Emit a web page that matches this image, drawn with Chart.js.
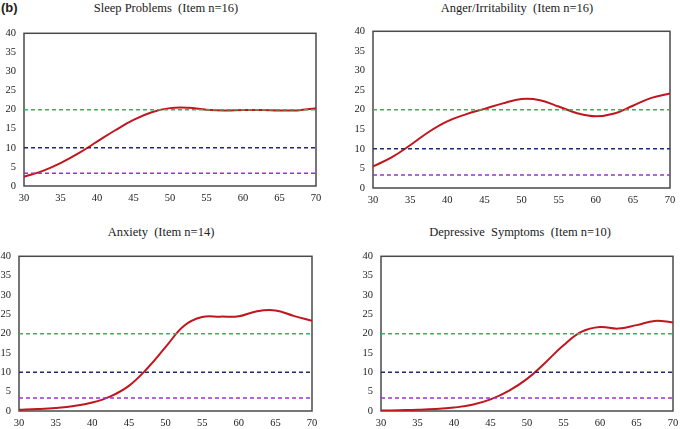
<!DOCTYPE html>
<html>
<head>
<meta charset="utf-8">
<script src="https://cdn.jsdelivr.net/npm/chart.js@4/dist/chart.umd.min.js"></script>
<style>
body{margin:0;background:#fff;width:680px;height:429px;position:relative;overflow:hidden;}
.box{position:absolute;}
.ttl{position:absolute;width:300px;text-align:center;font-family:"Liberation Serif",serif;font-size:12.5px;line-height:16px;color:#222;white-space:pre;}
#lbl{position:absolute;left:1px;top:0px;font:bold 13px "Liberation Sans",Arial,sans-serif;line-height:16px;color:#222;}
</style>
</head>
<body>
<div id="lbl">(b)</div>
<div class="ttl" style="left:16px;top:0px">Sleep Problems  (Item n=16)</div>
<div class="ttl" style="left:367px;top:0px">Anger/Irritability  (Item n=16)</div>
<div class="ttl" style="left:11px;top:224px">Anxiety  (Item n=14)</div>
<div class="ttl" style="left:370px;top:224px">Depressive  Symptoms  (Item n=10)</div>

<div class="box" id="b1"><canvas id="c1"></canvas></div>
<div class="box" id="b2"><canvas id="c2"></canvas></div>
<div class="box" id="b3"><canvas id="c3"></canvas></div>
<div class="box" id="b4"><canvas id="c4"></canvas></div>

<script>
// edades (eje x)
const ages = [30, 32.5, 35, 37.5, 40, 42.5, 45, 47.5, 50, 52.5, 55, 57.5, 60, 62.5, 65, 67.5, 70];

// curvas
const sleepVals   = [2.4, 3.9, 6.0, 8.6, 11.6, 14.6, 17.3, 19.3, 20.4, 20.5, 20.0, 19.8, 19.9, 19.9, 19.8, 19.8, 20.4];
const angerVals   = [5.5, 7.8, 10.9, 14.3, 17.0, 18.8, 20.2, 21.6, 22.7, 22.4, 20.8, 19.1, 18.3, 19.0, 21.0, 23.0, 24.1];
const anxietyVals = [0.3, 0.5, 0.8, 1.3, 2.2, 3.8, 6.5, 11.0, 16.5, 22.0, 24.3, 24.4, 24.5, 25.8, 26.0, 24.6, 23.3];
const depresVals  = [0.1, 0.2, 0.3, 0.5, 0.9, 1.6, 3.0, 5.2, 8.3, 12.5, 17.0, 20.5, 21.7, 21.3, 22.2, 23.3, 22.9];

// lineas de corte
const cutLevels = [20, 10, 3.33];
const cutColors = ['#2fb560', '#1f2a6e', '#9a34c8'];

const xRange = [30, 70];
const yRange = [0, 40];

var marco = {
    id: 'marco',
    beforeDatasetsDraw(chart) {
        const a = chart.chartArea;
        const ctx = chart.ctx;
        ctx.save();
        ctx.strokeStyle = '#4a4a4a';
        ctx.lineWidth = 1.5;
        ctx.strokeRect(a.left, a.top, a.right - a.left, a.bottom - a.top);
        ctx.restore();
    }
};

function dibujarPanel(n, valores, L, T, R, B, left) {
    var box = document.getElementById('b' + n);
    var top = T - 10;
    box.style.left = left + 'px';
    box.style.top = top + 'px';
    box.style.width = (R - left + 14) + 'px';
    box.style.height = (B - T + 10 + 30) + 'px';

    var datasets = [];
    for (let i = 0; i < cutLevels.length; i++) {
        datasets.push({
            data: [{x: xRange[0], y: cutLevels[i]}, {x: xRange[1], y: cutLevels[i]}],
            borderColor: cutColors[i],
            borderWidth: 1.5,
            borderDash: [4, 3],
            pointRadius: 0
        });
    }
    var pts = [];
    for (let i = 0; i < ages.length; i++) {
        pts.push({x: ages[i], y: valores[i]});
    }
    datasets.push({
        data: pts,
        borderColor: '#c0161e',
        borderWidth: 2,
        pointRadius: 0,
        tension: 0.4
    });

    var fuente = {family: 'Liberation Serif', size: 10.5};

    new Chart(document.getElementById('c' + n), {
        type: 'line',
        data: {datasets: datasets},
        options: {
            responsive: true,
            maintainAspectRatio: false,
            animation: false,
            layout: {padding: {top: 10, right: 14, bottom: 0, left: 0}},
            plugins: {legend: {display: false}, tooltip: {enabled: false}},
            scales: {
                x: {
                    type: 'linear',
                    min: xRange[0], max: xRange[1],
                    grid: {display: false, drawTicks: false},
                    border: {display: false},
                    ticks: {stepSize: 5, color: '#222', font: fuente, padding: 6},
                    afterFit: function (s) { s.height = 30; }
                },
                y: {
                    min: yRange[0], max: yRange[1],
                    grid: {display: false, drawTicks: false},
                    border: {display: false},
                    ticks: {stepSize: 5, color: '#222', font: fuente, padding: 8},
                    afterFit: function (s) { s.width = L - left; }
                }
            }
        },
        plugins: [marco]
    });
}

dibujarPanel(1, sleepVals, 24, 29, 316, 186, 0);
dibujarPanel(2, angerVals, 373, 27, 670, 188, 340);
dibujarPanel(3, anxietyVals, 19, 252, 312, 411, 0);
dibujarPanel(4, depresVals, 381, 252, 673, 411, 340);
</script>
</body>
</html>
